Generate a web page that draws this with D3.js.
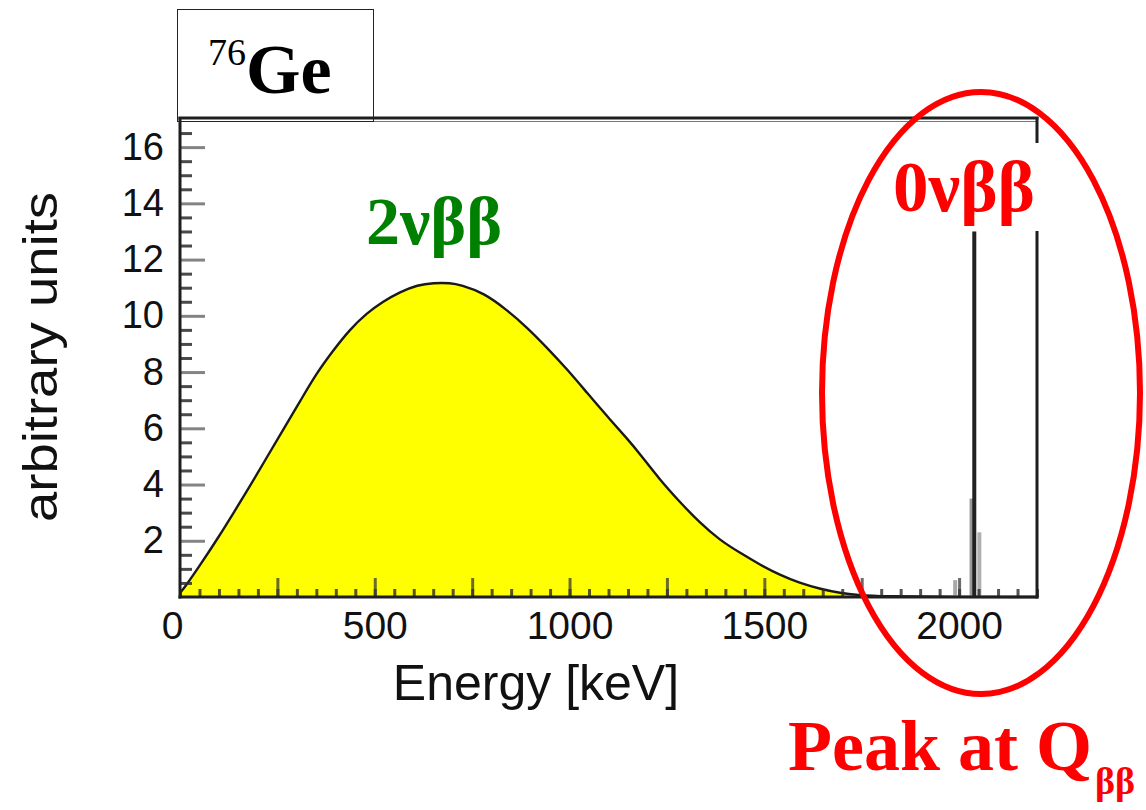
<!DOCTYPE html>
<html>
<head>
<meta charset="utf-8">
<script src="https://cdn.jsdelivr.net/npm/d3@7"></script>
<style>
  body { margin: 0; background: #fff; }
  svg { display: block; }
</style>
</head>
<body>
<svg id="chart" width="1146" height="810"></svg>
<script>
// 2νββ continuous spectrum of 76Ge (energy in keV, arbitrary units)
const energyKeV = [0, 10, 50, 100, 140, 180, 220, 265, 310, 350, 395, 435, 480, 520, 565, 610, 650, 695, 720, 780,
                   840, 890, 940, 995, 1045, 1095, 1150, 1180, 1230, 1285, 1335, 1385, 1440, 1490, 1540, 1590,
                   1645, 1695, 1740, 1800, 2000, 2200];
const spectrum2nu = [0.15, 0.3, 1.1, 2.15, 3.05, 3.95, 4.9, 5.95, 7.0, 7.95, 8.8, 9.5, 10.1, 10.5, 10.85, 11.1,
                     11.17, 11.17, 11.1, 10.82, 10.2, 9.6, 8.9, 8.08, 7.26, 6.45, 5.6, 5.1, 4.2, 3.35, 2.63, 2.03,
                     1.55, 1.14, 0.78, 0.5, 0.28, 0.14, 0.07, 0.02, 0, 0];

// 0νββ line at Q_ββ and its neighbouring bins
const peakEnergy = [1990, 2032, 2039, 2052];
const peakCounts = [0.6, 3.5, 13.0, 2.3];
const peakShade  = ["#a8a8a8", "#9a9a9a", "#222", "#b0b0b0"];

const xTickLabels = [0, 500, 1000, 1500, 2000];
const yTickLabels = [2, 4, 6, 8, 10, 12, 14, 16];

const svg = d3.select("#chart");
const x = d3.scaleLinear().domain([0, 2200]).range([180, 1037]);
const y = d3.scaleLinear().domain([0, 17]).range([597, 119]);

// spectrum fill and outline
const pts = energyKeV.map((e, i) => [e, spectrum2nu[i]]);
svg.append("path")
  .datum(pts)
  .attr("fill", "#ffff00")
  .attr("d", d3.area().x(d => x(d[0])).y0(y(0)).y1(d => y(d[1])).curve(d3.curveBasis));
svg.append("path")
  .datum(pts)
  .attr("fill", "none")
  .attr("stroke", "#1a1a1a")
  .attr("stroke-width", 2.4)
  .attr("d", d3.line().x(d => x(d[0])).y(d => y(d[1])).curve(d3.curveBasis));

// peak bins
svg.append("g").selectAll("rect")
  .data(peakEnergy.map((e, i) => ({ e, v: peakCounts[i], c: peakShade[i] })))
  .join("rect")
  .attr("x", d => x(d.e) - 2)
  .attr("width", 4)
  .attr("y", d => y(d.v))
  .attr("height", d => y(0) - y(d.v))
  .attr("fill", d => d.c);

// x ticks (pointing inward)
function styleTicks(g, color, width, opacity) {
  g.select(".domain").remove();
  g.selectAll(".tick line").attr("stroke", color).attr("stroke-width", width).attr("opacity", opacity);
}
svg.append("g").attr("transform", `translate(0,${y(0)})`)
  .call(d3.axisBottom(x).tickValues(d3.range(0, 2201, 50)).tickSize(-8).tickFormat(""))
  .call(g => styleTicks(g, "#2a2a2a", 3, 0.8));
svg.append("g").attr("transform", `translate(0,${y(0)})`)
  .call(d3.axisBottom(x).tickValues(d3.range(250, 2200, 250)).tickSize(-19).tickFormat(""))
  .call(g => styleTicks(g, "#3a3a3a", 3, 0.75));
svg.append("g").attr("transform", `translate(0,${y(0)})`)
  .call(d3.axisBottom(x).tickValues(xTickLabels).tickSize(0).tickPadding(14).tickFormat(d3.format("d")))
  .call(g => {
    g.select(".domain").remove();
    g.selectAll(".tick text")
      .attr("font-family", "'Liberation Sans', Arial, sans-serif")
      .attr("font-size", 39).attr("fill", "#111")
      .attr("dx", d => d === 0 ? -8 : 0);
  });

// y ticks
svg.append("g").attr("transform", `translate(${x(0)},0)`)
  .call(d3.axisLeft(y).tickValues(d3.range(0.5, 17, 0.5).filter(v => v % 2 !== 0)).tickSize(-12).tickFormat(""))
  .call(g => styleTicks(g, "#2a2a2a", 3, 0.85));
svg.append("g").attr("transform", `translate(${x(0)},0)`)
  .call(d3.axisLeft(y).tickValues(yTickLabels).tickSize(-25).tickPadding(16))
  .call(g => {
    styleTicks(g, "#777", 3, 0.9);
    g.selectAll(".tick text")
      .attr("font-family", "'Liberation Sans', Arial, sans-serif")
      .attr("font-size", 38).attr("fill", "#111")
      .attr("x", -16);
  });

// frame
const frame = svg.append("g").attr("stroke", "#1e1e1e");
frame.append("line").attr("x1", x(0)).attr("x2", x(0)).attr("y1", 117).attr("y2", y(0) + 1.5).attr("stroke-width", 3);
frame.append("line").attr("x1", x(0) - 1.5).attr("x2", x(2200) + 1.5).attr("y1", y(0)).attr("y2", y(0)).attr("stroke-width", 3);
frame.append("line").attr("x1", x(0) - 1.5).attr("x2", x(2200) + 1.5).attr("y1", 118).attr("y2", 118).attr("stroke-width", 3);
frame.append("line").attr("x1", x(0)).attr("x2", x(2200)).attr("y1", 121.5).attr("y2", 121.5).attr("stroke-width", 1).attr("opacity", 0.6);
frame.append("line").attr("x1", x(2200)).attr("x2", x(2200)).attr("y1", 117).attr("y2", y(0) + 1.5).attr("stroke-width", 3);

// axis titles
svg.append("text")
  .attr("x", 536).attr("y", 700)
  .attr("text-anchor", "middle")
  .attr("font-family", "'Liberation Sans', Arial, sans-serif")
  .attr("font-size", 50).attr("fill", "#111")
  .text("Energy [keV]");
svg.append("text")
  .attr("transform", "translate(57,357) rotate(-90)")
  .attr("text-anchor", "middle")
  .attr("font-family", "'Liberation Sans', Arial, sans-serif")
  .attr("font-size", 48).attr("fill", "#111")
  .attr("textLength", 330).attr("lengthAdjust", "spacingAndGlyphs")
  .text("arbitrary units");

// isotope label box
svg.append("rect")
  .attr("x", 177.5).attr("y", 9.5).attr("width", 196).attr("height", 112)
  .attr("fill", "none").attr("stroke", "#222").attr("stroke-width", 1);
const iso = svg.append("text")
  .attr("x", 208).attr("y", 93)
  .attr("font-family", "'Liberation Serif', 'Times New Roman', serif")
  .attr("font-weight", "bold").attr("fill", "#000");
iso.append("tspan").attr("font-size", 38).attr("font-weight", "normal").attr("dy", -28).text("76");
iso.append("tspan").attr("font-size", 70).attr("dy", 28).text("Ge");

// 2νββ label
svg.append("text")
  .attr("x", 434).attr("y", 244)
  .attr("text-anchor", "middle")
  .attr("font-family", "'Liberation Serif', 'Times New Roman', serif")
  .attr("font-weight", "bold").attr("font-size", 68).attr("fill", "#008000")
  .text("2νββ");

// 0νββ label on a white patch
svg.append("rect").attr("x", 882).attr("y", 143).attr("width", 165).attr("height", 88).attr("fill", "#fff");
svg.append("text")
  .attr("x", 964).attr("y", 211)
  .attr("text-anchor", "middle")
  .attr("font-family", "'Liberation Serif', 'Times New Roman', serif")
  .attr("font-weight", "bold").attr("font-size", 71).attr("fill", "#ff0000")
  .text("0νββ");

// region highlight
svg.append("ellipse")
  .attr("cx", 981).attr("cy", 393).attr("rx", 159).attr("ry", 301)
  .attr("fill", "none").attr("stroke", "#ff0000").attr("stroke-width", 6);

// Q_ββ caption
const cap = svg.append("text")
  .attr("x", 788).attr("y", 770)
  .attr("font-family", "'Liberation Serif', 'Times New Roman', serif")
  .attr("font-weight", "bold").attr("fill", "#ff0000");
cap.append("tspan").attr("font-size", 72).text("Peak at Q");
cap.append("tspan").attr("font-size", 38).attr("dx", 3).attr("dy", 24).text("ββ");
</script>
</body>
</html>
